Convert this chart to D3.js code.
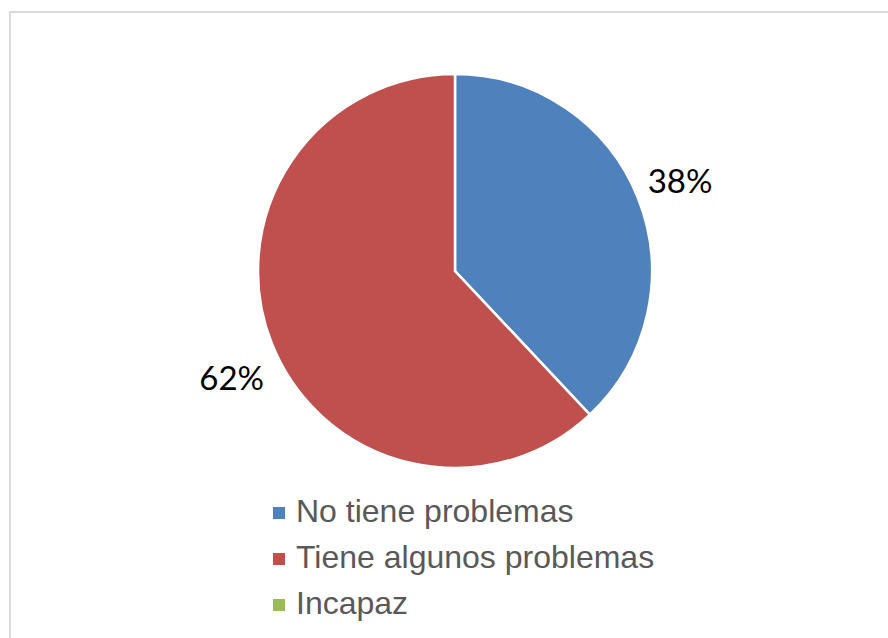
<!DOCTYPE html>
<html>
<head>
<meta charset="utf-8">
<script src="https://cdn.jsdelivr.net/npm/d3@7"></script>
<style>
  html, body { margin: 0; padding: 0; background: #fff; }
  svg { display: block; }
</style>
</head>
<body>
<svg id="chart" width="888" height="638"></svg>
<script>
// Response categories and their shares (%)
const categories = ["No tiene problemas", "Tiene algunos problemas", "Incapaz"];
const values = [38, 62, 0];
const colors = ["#4f81bd", "#c0504d", "#9bbb59"];

const svg = d3.select("#chart");

// Chart frame (extends past the right and bottom edges)
svg.append("rect")
  .attr("x", 10).attr("y", 12)
  .attr("width", 900).attr("height", 660)
  .attr("fill", "#fff")
  .attr("stroke", "#d9d9d9")
  .attr("stroke-width", 2);

const cx = 455, cy = 271, r = 197;
const data = categories.map((c, i) => ({ category: c, value: values[i], color: colors[i] }));

const pie = d3.pie().value(d => d.value).sort(null);
const arc = d3.arc().innerRadius(0).outerRadius(r);
const arcs = pie(data);

const g = svg.append("g").attr("transform", `translate(${cx},${cy})`);

g.selectAll("path.slice")
  .data(arcs.filter(a => a.data.value > 0))
  .join("path")
  .attr("class", "slice")
  .attr("d", arc)
  .attr("fill", d => d.data.color)
  .attr("stroke", "#fff")
  .attr("stroke-width", 2.5)
  .attr("stroke-linejoin", "miter");

// Percentage labels placed outside the pie (best-fit: the large slice's label sits a bit lower)
g.selectAll("text.pct")
  .data(arcs.filter(a => a.data.value > 0))
  .join("text")
  .attr("class", "pct")
  .attr("transform", d => {
    const big = d.data.value >= 50;
    const mid = (d.startAngle + d.endAngle) / 2 - (big ? 0.073 : 0);
    const dist = big ? r + 51 : r + 45;
    return `translate(${Math.sin(mid) * dist},${-Math.cos(mid) * dist})`;
  })
  .attr("text-anchor", "middle")
  .attr("dy", "0.35em")
  .attr("font-family", "Lato, 'Open Sans', sans-serif")
  .attr("font-size", 33)
  .attr("fill", "#000")
  .text(d => d.data.value + "%");

// Legend
const legend = svg.append("g").attr("transform", "translate(273,0)");
const baselines = [522, 568, 614];
const items = legend.selectAll("g.item")
  .data(data)
  .join("g")
  .attr("class", "item")
  .attr("transform", (d, i) => `translate(0,${baselines[i]})`);

items.append("rect")
  .attr("x", 0).attr("y", -15)
  .attr("width", 12).attr("height", 12)
  .attr("fill", d => d.color);

items.append("text")
  .attr("x", 23).attr("y", 0)
  .attr("font-family", "'Liberation Sans', Arial, sans-serif")
  .attr("font-size", 32)
  .attr("fill", "#595959")
  .text(d => d.category);
</script>
</body>
</html>
